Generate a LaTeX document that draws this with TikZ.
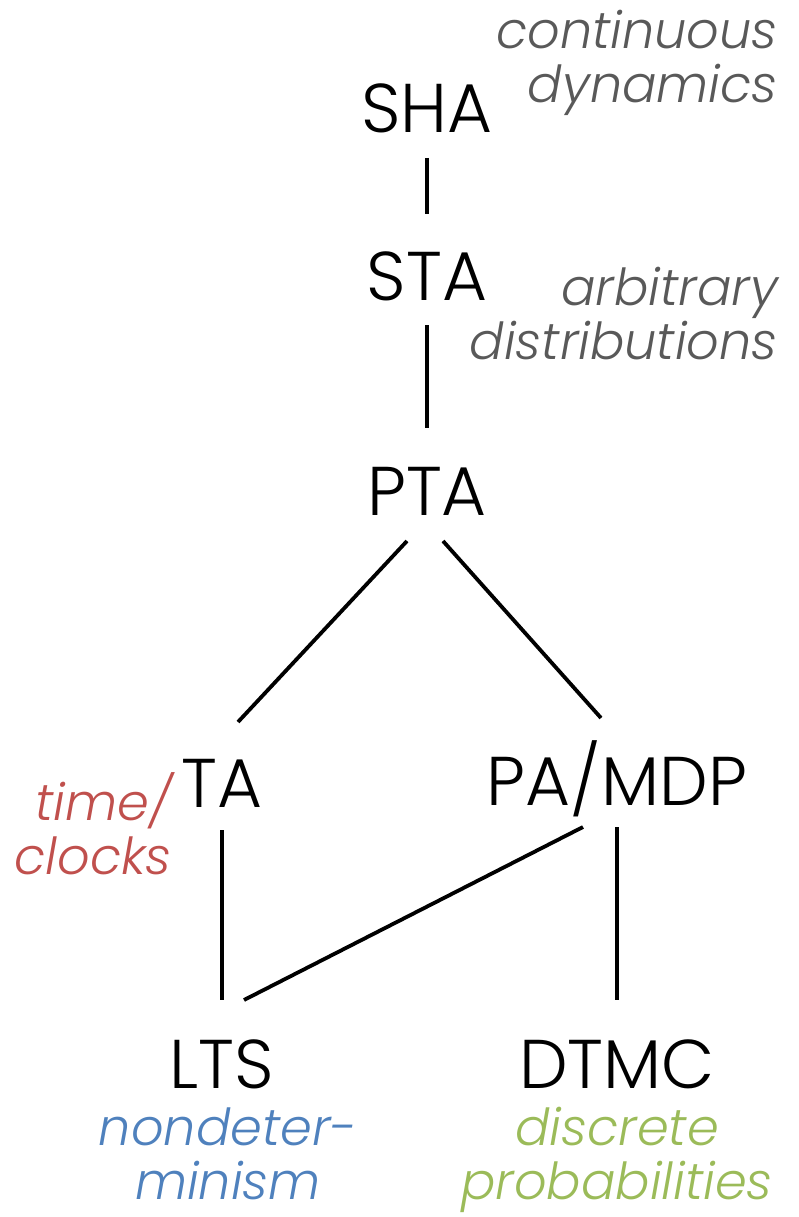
\documentclass[tikz,border=0pt]{standalone}
\usepackage{fontspec}
\setmainfont{Poppins}[UprightFont=* Light, ItalicFont=* Light Italic]
\definecolor{lgray}{HTML}{595959}
\definecolor{lred}{HTML}{C0504D}
\definecolor{lblue}{HTML}{4F81BD}
\definecolor{lgreen}{HTML}{9BBB59}
\begin{document}
\begin{tikzpicture}[x=1pt,y=-1pt,
  model/.style={inner sep=0pt, anchor=base, font=\fontsize{69}{69}\selectfont},
  note/.style={inner sep=0pt, font=\fontsize{51}{54}\selectfont\itshape},
  edge/.style={line width=3.8pt}]
\useasboundingbox (0,0) rectangle (798,1217);
\node[model] (SHA) at (427,133) {SHA};
\node[model] (STA) at (427,300) {STA};
\node[model] (PTA) at (427,515) {PTA};
\node[model] (TA) at (222,807) {TA};
\node[model] (PA) at (617,805) {PA/MDP};
\node[model] (LTS) at (222,1088) {LTS};
\node[model] (DTMC) at (617,1088) {DTMC};
\node[note, text=lgray, anchor=base east, align=right] (n1) at (778,103) {continuous\\dynamics};
\node[note, text=lgray, anchor=base east, align=right] (n2) at (778,359) {arbitrary\\distributions};
\node[note, text=lred, anchor=base east, align=right] (n3) at (172,874) {time/\\clocks};
\node[note, text=lblue, anchor=base, align=center] (n4) at (228,1199) {nondeter-\\minism};
\node[note, text=lgreen, anchor=base, align=center] (n5) at (617,1199) {discrete\\probabilities};
\coordinate (a1) at (427,158); \coordinate (a2) at (427,214);
\coordinate (b1) at (427,325); \coordinate (b2) at (427,428);
\coordinate (c1) at (407,541); \coordinate (c2) at (238,722);
\coordinate (d1) at (443,541); \coordinate (d2) at (601,718);
\coordinate (e1) at (222,830); \coordinate (e2) at (222,1000);
\coordinate (f1) at (583,827); \coordinate (f2) at (244,1000);
\coordinate (g1) at (617,827); \coordinate (g2) at (617,1000);
\draw[edge] (a1) -- (a2);
\draw[edge] (b1) -- (b2);
\draw[edge] (c1) -- (c2);
\draw[edge] (d1) -- (d2);
\draw[edge] (e1) -- (e2);
\draw[edge] (f1) -- (f2);
\draw[edge] (g1) -- (g2);
\end{tikzpicture}
\end{document}
